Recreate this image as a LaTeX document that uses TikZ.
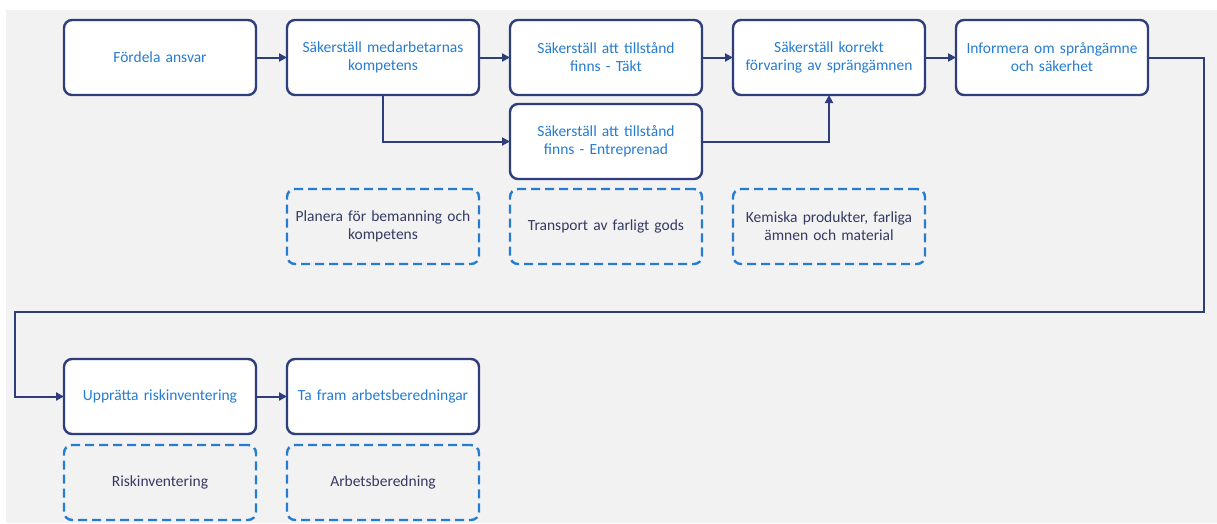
\documentclass[tikz,border=0pt]{standalone}
\usepackage{fontspec}
\setmainfont{Carlito}
\usetikzlibrary{positioning,arrows.meta}
\definecolor{stepnavy}{RGB}{46,62,125}
\definecolor{stepblue}{RGB}{38,124,208}
\definecolor{notedark}{RGB}{52,58,98}
\definecolor{panelgray}{RGB}{242,242,242}
\tikzset{
  box/.style={
    draw=stepnavy,
    line width=2.4pt,
    fill=white,
    rounded corners=8pt,
    minimum width=192pt,
    minimum height=75pt,
    text width=184pt,
    inner sep=0pt,
    outer sep=0pt,
    align=center,
    text=stepblue,
    font=\fontsize{15.5}{18}\selectfont
  },
  notebox/.style={
    box,
    draw=stepblue,
    fill=none,
    dash pattern=on 9pt off 5pt,
    text=notedark
  },
  link/.style={
    draw=stepnavy,
    line width=2pt,
    -{Triangle[length=8pt,width=8pt]}
  }
}

\begin{document}
\begin{tikzpicture}[x=1pt,y=-1pt]
  \useasboundingbox (0,0) rectangle (1217,523);
  \fill[panelgray] (6,10) rectangle (1217,523);
  % Top row
  \node[box] (fordela) at (160,57.5) {Fördela ansvar};
  \node[box, right=31pt of fordela] (kompetens) {Säkerställ medarbetarnas\\kompetens};
  \node[box, right=31pt of kompetens] (takt) {Säkerställ att tillstånd\\finns - Täkt};
  \node[box, right=31pt of takt] (forvaring) {Säkerställ korrekt\\förvaring av sprängämnen};
  \node[box, right=31pt of forvaring] (informera) {Informera om språngämne\\och säkerhet};
  \node[box, below=9pt of takt] (entreprenad) {Säkerställ att tillstånd\\finns - Entreprenad};
  % Support documents
  \node[notebox, below=10pt of entreprenad] (transport) {Transport av farligt gods};
  \node[notebox] (planera) at (kompetens |- transport) {Planera för bemanning och\\kompetens};
  \node[notebox] (kemiska) at (forvaring |- transport) {Kemiska produkter, farliga\\ämnen och material};
  % Bottom row
  \node[box] (upprata) at (160,396.5) {Upprätta riskinventering};
  \node[box, right=31pt of upprata] (tafram) {Ta fram arbetsberedningar};
  \node[notebox, below=11pt of upprata] (riskinv) {Riskinventering};
  \node[notebox, below=11pt of tafram] (arbetsb) {Arbetsberedning};
  % Connectors
  \draw[link] (fordela) -- (kompetens);
  \draw[link] (kompetens) -- (takt);
  \draw[link] (takt) -- (forvaring);
  \draw[link] (forvaring) -- (informera);
  \draw[link] (kompetens.south) |- (entreprenad.west);
  \draw[link] (entreprenad.east) -| (forvaring.south);
  \coordinate (turnR) at (1204,312);
  \coordinate (turnL) at (15,312);
  \draw[link] (informera.east) -| (turnR) -- (turnL) |- (upprata.west);
  \draw[link] (upprata) -- (tafram);
\end{tikzpicture}
\end{document}
